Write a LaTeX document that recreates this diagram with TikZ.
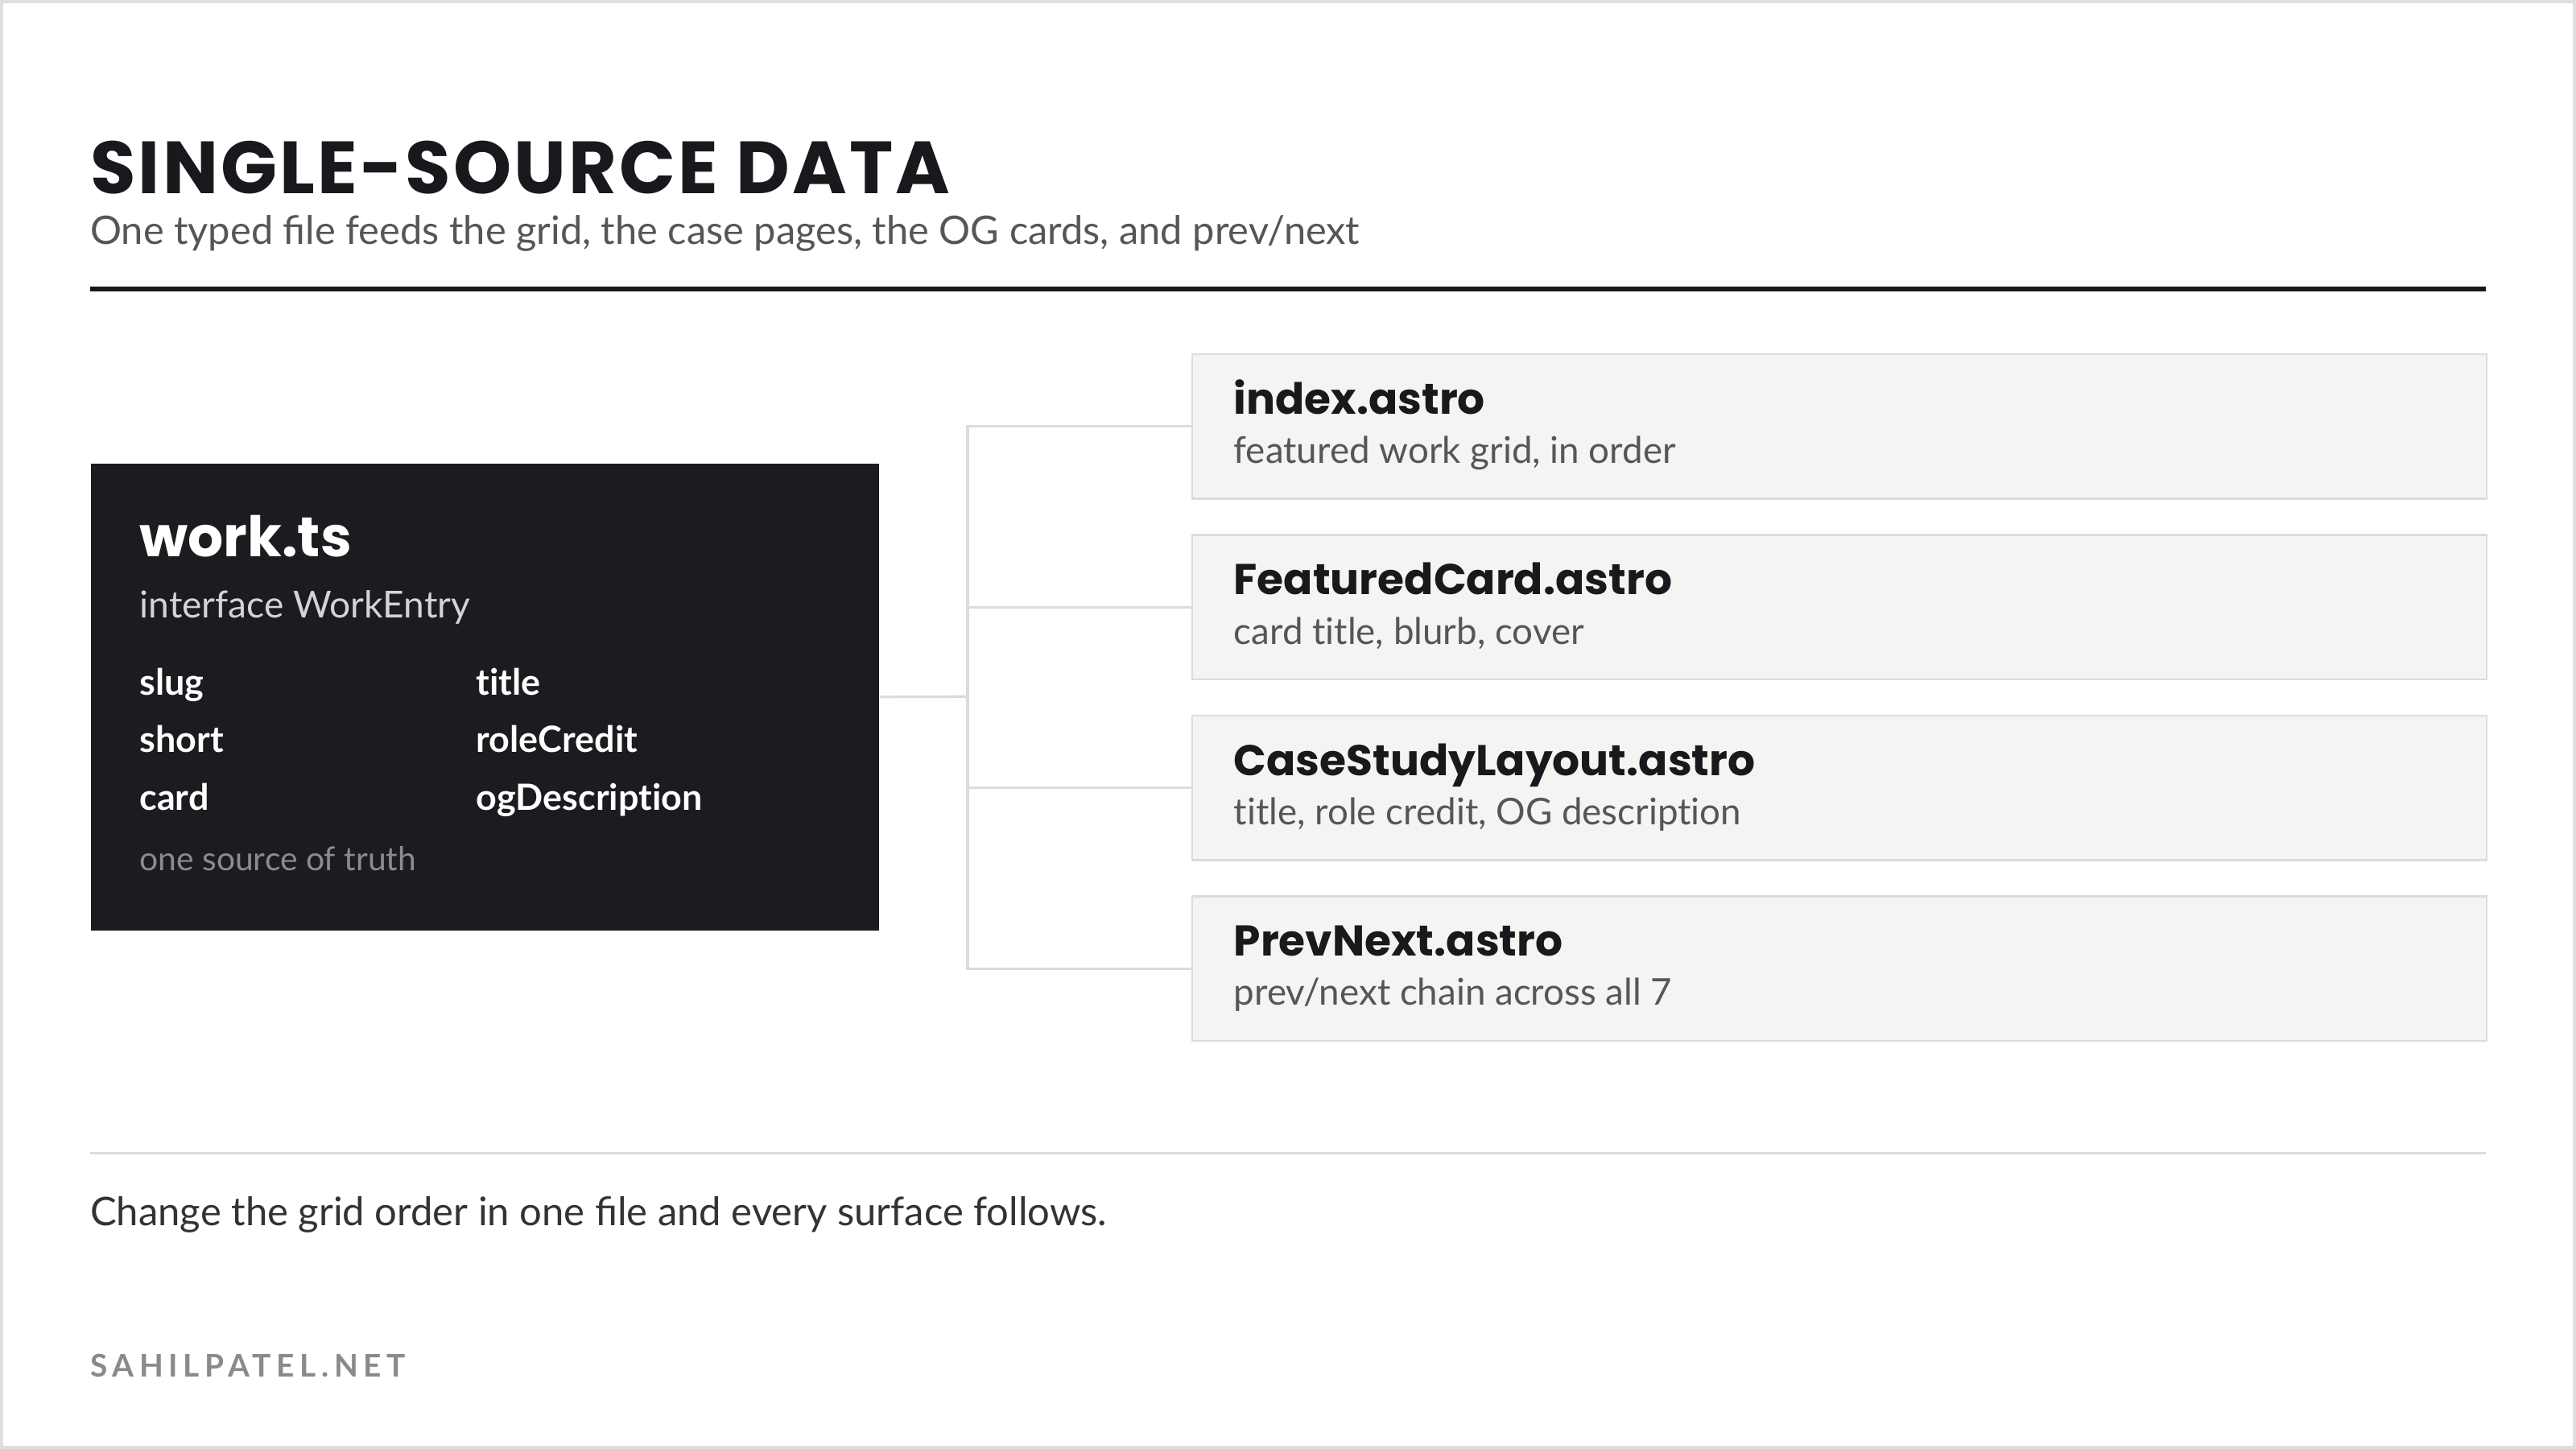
\documentclass[tikz,border=0pt]{standalone}
\usepackage{fontspec}
\setmainfont{Lato}[Ligatures=NoCommon]
\newfontfamily\pop{Poppins}
\newfontfamily\poptitle{Poppins}[LetterSpace=3.4]
\newfontfamily\latospaced{Lato}[LetterSpace=17]
\definecolor{ink}{HTML}{18191C}
\definecolor{darkbg}{HTML}{1B1C1F}
\definecolor{subgray}{HTML}{55565A}
\definecolor{lightline}{HTML}{DCDCDC}
\definecolor{cardfill}{HTML}{F4F4F2}
\definecolor{frame}{HTML}{DEDEE2}
\definecolor{mutegray}{HTML}{8A8A8E}
\definecolor{ifacegray}{HTML}{D4D4D8}
\definecolor{truthgray}{HTML}{8C8C90}
\definecolor{bodyink}{HTML}{333336}
\tikzset{
  txt/.style={anchor=base west, inner sep=0pt, outer sep=0pt},
  darkbox/.style={anchor=north west, fill=darkbg, draw=none, minimum width=480pt, minimum height=284pt, inner sep=0pt},
  cardbox/.style={anchor=north west, fill=cardfill, draw=lightline, line width=1.2pt, minimum width=788pt, minimum height=88pt, inner sep=0pt},
  conn/.style={draw=lightline, line width=1.6pt},
  cardtitle/.style={txt, font=\pop\bfseries\fontsize{26.2}{30}\selectfont, text=ink},
  cardsub/.style={txt, font=\fontsize{22.4}{26}\selectfont, text=subgray},
  field/.style={txt, font=\bfseries\fontsize{22}{26}\selectfont, text=white},
}
\begin{document}
\begin{tikzpicture}[x=1pt,y=-1pt]
\useasboundingbox (0,0) rectangle (1568,882);
\fill[white] (0,0) rectangle (1568,882);
\draw[frame, line width=2pt] (1,1) rectangle (1567,881);

% header
\node[txt, text depth=0pt, font=\poptitle\bfseries\fontsize{45}{50}\selectfont, text=ink] (title) at (55,118) {SINGLE-SOURCE DATA};
\node[txt, text height=16pt, font=\fontsize{23.9}{28}\selectfont, text=subgray] (subtitle) at (55,148.5) {One typed ﬁle feeds the grid, the case pages, the OG cards, and prev/next};
\draw[ink, line width=3pt] (55,176) -- (1513,176);

% source box
\node[darkbox] (src) at (55,282) {};
\node[txt, font=\pop\bfseries\fontsize{34}{38}\selectfont, text=white] (wt) at (85,339) {work.ts};
\node[txt, font=\fontsize{22.6}{26}\selectfont, text=ifacegray] (iface) at (85,376) {interface WorkEntry};
\node[field] (f1) at (85,423) {slug};
\node[field] (f2) at (290,423) {title};
\node[field] (f3) at (85,458) {short};
\node[field] (f4) at (290,458) {roleCredit};
\node[field] (f5) at (85,493) {card};
\node[field] (f6) at (290,493) {ogDescription};
\node[txt, font=\fontsize{20}{24}\selectfont, text=truthgray] (truth) at (85,530) {one source of truth};

% target cards
\node[cardbox] (b1) at (725,215) {};
\node[cardbox] (b2) at (725,325) {};
\node[cardbox] (b3) at (725,435) {};
\node[cardbox] (b4) at (725,545) {};
\node[cardtitle] (t1) at (751,252) {index.astro};
\node[cardsub]   (s1) at (751,282) {featured work grid, in order};
\node[cardtitle] (t2) at (751,362) {FeaturedCard.astro};
\node[cardsub]   (s2) at (751,392) {card title, blurb, cover};
\node[cardtitle] (t3) at (751,472) {CaseStudyLayout.astro};
\node[cardsub]   (s3) at (751,502) {title, role credit, OG description};
\node[cardtitle] (t4) at (751,582) {PrevNext.astro};
\node[cardsub]   (s4) at (751,612) {prev/next chain across all 7};

% connectors
\coordinate (j) at (589,424);
\draw[conn] (src.east) -- (j);
\draw[conn] (b1.west) -- (b1.west -| j) -- (b4.west -| j) -- (b4.west);
\draw[conn] (b2.west) -- (b2.west -| j);
\draw[conn] (b3.west) -- (b3.west -| j);

% footer
\draw[lightline, line width=1.2pt] (55,702) -- (1513,702);
\node[txt, font=\fontsize{24}{28}\selectfont, text=bodyink] (note) at (55,746) {Change the grid order in one ﬁle and every surface follows.};
\node[txt, font=\latospaced\bfseries\fontsize{19}{22}\selectfont, text=mutegray] (brand) at (55,838) {SAHILPATEL.NET};
\end{tikzpicture}
\end{document}
